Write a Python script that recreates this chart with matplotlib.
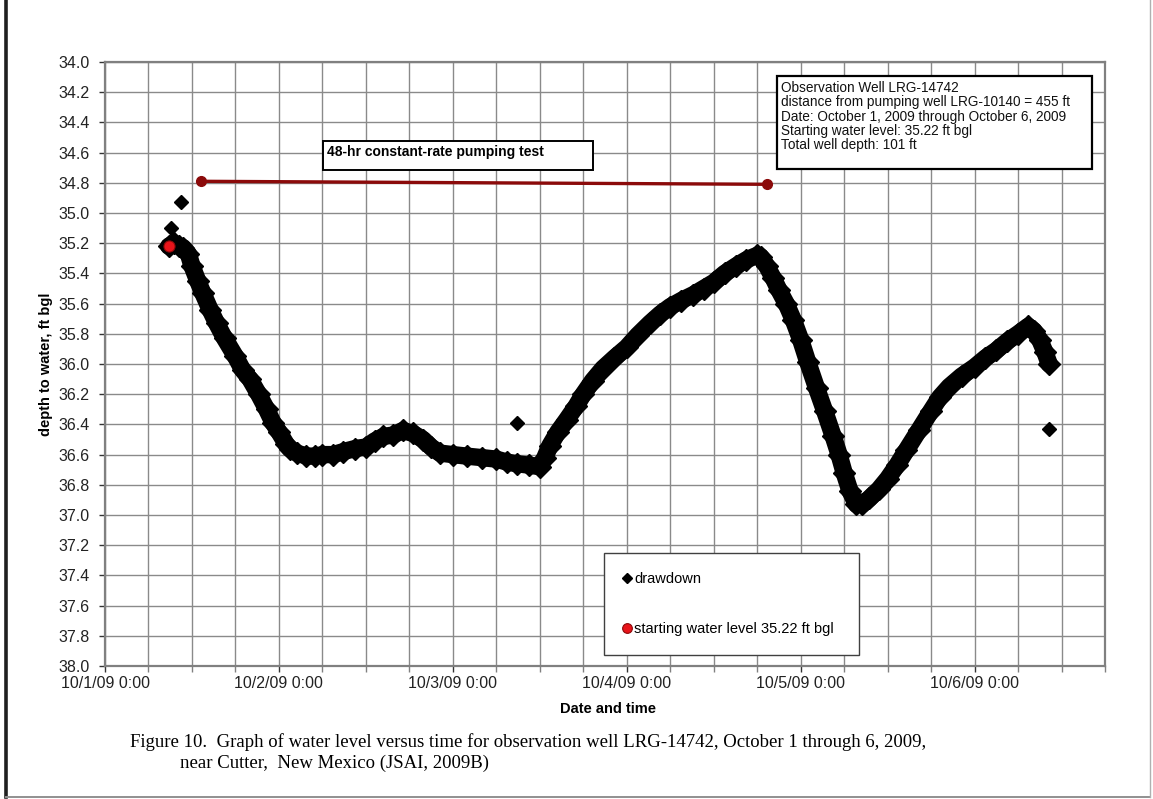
import numpy as np
import pandas as pd
import matplotlib
matplotlib.use("Agg")
import matplotlib.pyplot as plt
import matplotlib.dates as mdates
from matplotlib.patches import Rectangle
from matplotlib.lines import Line2D
from matplotlib.ticker import FuncFormatter, FixedLocator

plt.rcParams["font.family"] = ["Liberation Sans", "DejaVu Sans"]

# ---- data: hours since 10/1/09 0:00 and depth to water (ft bgl) ----
start = pd.Timestamp("2009-10-01 00:00")

drawdown_hours = [
    8.8, 9.5, 10.2, 10.8, 11.5, 12.0, 12.8, 13.5, 14.5, 15.4, 16.5, 18.0,
    19.0, 20.0, 21.2, 22.3, 23.2, 24.0, 25.0, 25.5, 26.5, 27.8, 29.0, 30.0,
    31.5, 32.9, 34.5, 36.0, 37.2, 38.4, 39.8, 41.1, 42.5, 43.9, 45.0, 46.2,
    48.0, 49.9, 52.0, 54.0, 55.5, 56.8, 58.5, 60.0, 60.7, 61.4, 62.5, 63.7,
    65.0, 66.0, 67.3, 68.7, 70.3, 72.0, 73.5, 75.2, 76.6, 78.0, 79.5, 81.2,
    82.6, 84.0, 85.5, 87.1, 88.5, 90.0, 90.5, 91.3, 92.2, 93.0, 94.0, 95.0,
    96.0, 97.0, 98.2, 99.3, 100.5, 101.3, 102.0, 102.8, 103.7, 104.5, 105.5,
    106.8, 108.0, 109.3, 110.6, 112.3, 114.0, 115.2, 116.5, 118.2, 120.0,
    121.5, 123.0, 124.5, 126.0, 127.4, 128.2, 129.0, 129.7, 130.3,
]
drawdown_depth = [
    35.22, 35.20, 35.22, 35.23, 35.27, 35.35, 35.45, 35.53, 35.64, 35.73, 35.83, 35.95,
    36.04, 36.10, 36.20, 36.30, 36.39, 36.45, 36.53, 36.56, 36.59, 36.61, 36.61, 36.60,
    36.60, 36.58, 36.56, 36.55, 36.51, 36.48, 36.47, 36.44, 36.46, 36.50, 36.55, 36.59,
    36.60, 36.61, 36.62, 36.63, 36.65, 36.66, 36.67, 36.68, 36.62, 36.54, 36.45, 36.37,
    36.28, 36.20, 36.11, 36.03, 35.96, 35.89, 35.81, 35.73, 35.67, 35.62, 35.58, 35.54,
    35.50, 35.46, 35.40, 35.35, 35.31, 35.28, 35.29, 35.35, 35.43, 35.51, 35.60, 35.71,
    35.84, 35.99, 36.16, 36.31, 36.48, 36.60, 36.72, 36.84, 36.93, 36.93, 36.89,
    36.83, 36.76, 36.67, 36.57, 36.44, 36.31, 36.22, 36.15, 36.08, 36.02,
    35.96, 35.91, 35.85, 35.80, 35.75, 35.78, 35.84, 35.92, 36.00,
]

# isolated readings off the main trend
stray_hours = [9.05, 10.5, 56.8, 130.3]
stray_depth = [35.10, 34.925, 36.39, 36.43]

# starting water level
start_level_hours = [8.8]
start_level_depth = [35.22]

# 48-hr pumping test marker line
pump_hours = [13.3, 91.3]
pump_depth = [34.79, 34.81]

y_ticks = [round(34.0 + 0.2 * i, 1) for i in range(21)]

info_lines = [
    "Observation Well LRG-14742",
    "distance from pumping well LRG-10140 = 455 ft",
    "Date: October 1, 2009 through October 6, 2009",
    "Starting water level: 35.22 ft bgl",
    "Total well depth: 101 ft",
]


def to_time(hours):
    return start + pd.to_timedelta(np.asarray(hours, dtype=float), unit="h")


W, H = 1153, 799
fig = plt.figure(figsize=(W / 100, H / 100), dpi=100)


def fx(px):
    return px / W


def fy(py):
    return 1 - py / H


ax = fig.add_axes([fx(105), fy(666), 1000 / W, 604 / H])

# drawdown band
t_dd = to_time(drawdown_hours)
ax.plot(t_dd, drawdown_depth, color="black", lw=12.5, solid_joinstyle="round",
        solid_capstyle="round", zorder=3)
ax.plot(t_dd, drawdown_depth, ls="none", marker="D", ms=11, color="black", zorder=3)
ax.plot(to_time(stray_hours), stray_depth, ls="none", marker="D", ms=7,
        color="black", zorder=3)

# pumping period line
ax.plot(to_time(pump_hours), pump_depth, color="#8b0a0a", lw=2.4, marker="o",
        ms=7, zorder=4)

# starting level point
ax.plot(to_time(start_level_hours), start_level_depth, ls="none", marker="o",
        ms=8, mfc="#e8141a", mec="#8b0a0a", mew=0.8, zorder=5)

# axes scales
ax.set_xlim(start, start + pd.Timedelta(hours=138))
ax.set_ylim(38.0, 34.0)
ax.yaxis.set_major_locator(FixedLocator(y_ticks))
ax.yaxis.set_major_formatter(FuncFormatter(lambda v, p: f"{v:.1f}"))
ax.xaxis.set_major_locator(mdates.DayLocator())
ax.xaxis.set_minor_locator(mdates.HourLocator(byhour=[6, 12, 18]))


def date_fmt(v, pos):
    d = mdates.num2date(v)
    return f"{d.month}/{d.day}/{d:%y} {d.hour}:{d:%M}"


ax.xaxis.set_major_formatter(FuncFormatter(date_fmt))

ax.grid(True, which="both", color="#8a8a8a", lw=1.0, zorder=0)
ax.set_axisbelow(True)
for s in ax.spines.values():
    s.set_color("#808080")
    s.set_linewidth(1.6)
ax.tick_params(axis="both", which="major", labelsize=11.5, colors="#333333",
               length=4, width=1, pad=3, labelcolor="#222222")
ax.tick_params(axis="y", pad=7)
ax.tick_params(axis="x", which="minor", length=4, width=1, colors="#808080")

# axis titles
fig.text(fx(46), fy(364), "depth to water, ft bgl", rotation=90, ha="center",
         va="center", fontsize=10.5, fontweight="bold")
fig.text(fx(608), fy(709), "Date and time", ha="center", va="center",
         fontsize=10.5, fontweight="bold")

# information box
fig.add_artist(Rectangle((fx(777), fy(169)), (1092 - 777) / W, (169 - 76) / H,
                         transform=fig.transFigure, facecolor="white",
                         edgecolor="black", lw=1.6, zorder=6))
for i, line in enumerate(info_lines):
    fig.text(fx(781), fy(87.5 + 14.5 * i), line, ha="left", va="center",
             fontsize=9.8, color="#111111", zorder=7)

# pumping test label
fig.add_artist(Rectangle((fx(323), fy(170)), (593 - 323) / W, (170 - 141) / H,
                         transform=fig.transFigure, facecolor="white",
                         edgecolor="black", lw=1.4, zorder=6))
fig.text(fx(327), fy(152), "48-hr constant-rate pumping test", ha="left",
         va="center", fontsize=10.0, fontweight="bold", zorder=7)

# legend
handles = [
    Line2D([], [], ls="none", marker="D", ms=5, color="black"),
    Line2D([], [], ls="none", marker="o", ms=7, mfc="#e8141a", mec="#8b0a0a",
           mew=0.8),
]
leg = ax.legend(handles, ["drawdown", "starting water level 35.22 ft bgl"],
                loc="upper left",
                bbox_to_anchor=(fx(604), fy(553), (859 - 604) / W, 0.0),
                bbox_transform=fig.transFigure, mode="expand",
                fontsize=10.5, frameon=True, fancybox=False, framealpha=1,
                edgecolor="#404040", borderpad=1.3, labelspacing=2.5,
                handlelength=0.6, handletextpad=0.15, borderaxespad=0)
leg.get_frame().set_linewidth(1.0)
leg.set_zorder(8)

# caption
fig.text(fx(130), fy(742), "Figure 10.  Graph of water level versus time for "
         "observation well LRG-14742, October 1 through 6, 2009,",
         ha="left", va="center", fontsize=13.5, family="Liberation Serif")
fig.text(fx(180), fy(763), "near Cutter,  New Mexico (JSAI, 2009B)",
         ha="left", va="center", fontsize=13.5, family="Liberation Serif")

# page frame
fig.add_artist(Line2D([fx(6), fx(6)], [fy(0), fy(797)], transform=fig.transFigure,
                      color="#202020", lw=2.6))
fig.add_artist(Line2D([fx(6), fx(1150)], [fy(797), fy(797)],
                      transform=fig.transFigure, color="#909090", lw=1.4))
fig.add_artist(Line2D([fx(1150), fx(1150)], [fy(0), fy(797)],
                      transform=fig.transFigure, color="#b0b0b0", lw=1.0))

fig.savefig("out.png", dpi=100, facecolor="white")
